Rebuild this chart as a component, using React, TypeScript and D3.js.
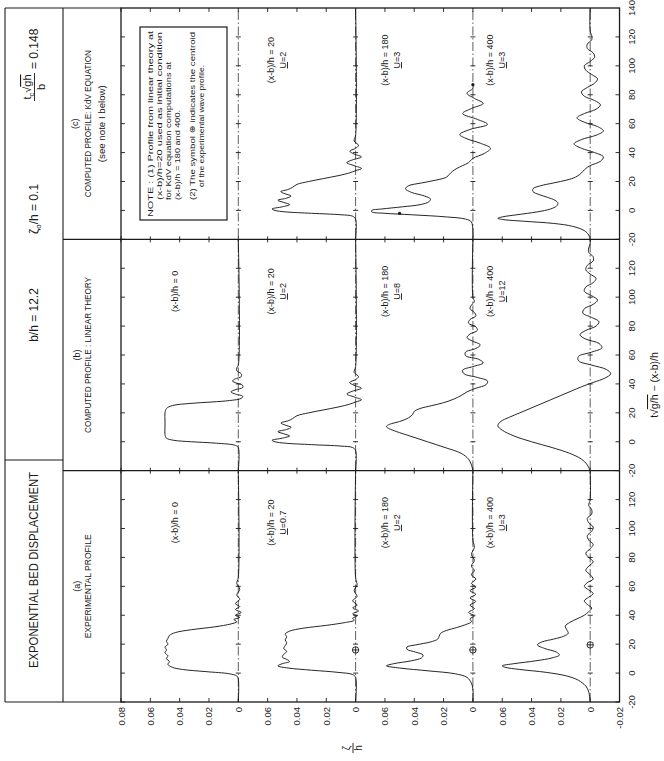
import React from 'react';
import * as d3 from 'd3';

type Pt = [number, number];

// panel headings
const panelTags = ['(a)', '(b)', '(c)'];
const panelTitles = ['EXPERIMENTAL PROFILE', 'COMPUTED PROFILE : LINEAR THEORY', 'COMPUTED PROFILE: KdV EQUATION'];
const stations = ['0', '20', '180', '400'];
const uNumbers = [
  [null, '0.7', '2', '3'],
  [null, '2', '8', '12'],
  [null, '2', '3', '3'],
];
const timeTicks = [-20, 0, 20, 40, 60, 80, 100, 120];
const etaTicksTop = [0.08, 0.06, 0.04, 0.02, 0];
const etaTicksRow = [0.06, 0.04, 0.02, 0];
const etaTicksLast = [-0.02];

// (a) experimental profiles, [t, eta/h]
const expX0: Pt[] = [[-20,0],[-4,0],[-2,0.001],[-0.5,0.006],[1,0.022],[2.5,0.038],[4,0.045],[6,0.048],[8,0.047],[10,0.049],[12,0.048],[14,0.05],[16,0.049],[18,0.05],[20,0.048],[22,0.049],[24,0.048],[26,0.047],[28,0.043],[30,0.032],[32,0.016],[34,0.005],[35.5,0.001],[37,0.003],[38.5,-0.001],[40,0.002],[42,-0.002],[44,0.002],[46,-0.001],[48,0.002],[51,-0.001],[54,0.001],[58,-0.001],[62,0.001],[66,0],[140,0]];
const expX20: Pt[] = [[-20,0],[-3,0],[-1,0.002],[0.5,0.012],[2,0.03],[3.5,0.046],[5,0.053],[6.5,0.05],[8,0.045],[9.5,0.047],[11,0.05],[13,0.049],[15,0.047],[17,0.049],[19,0.048],[21,0.047],[23,0.048],[25,0.047],[27,0.048],[29,0.045],[31,0.036],[33,0.02],[35,0.007],[36.5,0.001],[38,0.002],[39.5,-0.001],[41,0.002],[43,-0.002],[45,0.002],[47,-0.001],[50,0.002],[53,-0.001],[57,0.001],[61,-0.001],[66,0],[140,0]];
const expX180: Pt[] = [[-20,0],[-11,0],[-7,0.001],[-3,0.004],[-0.5,0.012],[1.5,0.03],[3.5,0.05],[5,0.059],[6.5,0.054],[8.5,0.042],[10.5,0.035],[12.5,0.034],[14.5,0.039],[16.5,0.045],[18,0.045],[19.5,0.039],[21.5,0.029],[23.5,0.024],[25.5,0.023],[27.5,0.022],[29.5,0.018],[31.5,0.011],[33.5,0.005],[35.5,0.001],[37.5,0.002],[39.5,-0.001],[42,0.003],[44.5,-0.001],[47,0.002],[49.5,-0.002],[52,0.002],[54.5,-0.002],[57,0.002],[59.5,-0.002],[62,0.001],[65,-0.002],[68,0.001],[71,-0.001],[74,0.001],[78,-0.001],[82,0.001],[87,-0.001],[92,0],[140,0]];
const expX400: Pt[] = [[-20,0],[-13,0.001],[-9,0.003],[-5,0.008],[-2,0.016],[0.5,0.03],[2.5,0.048],[4,0.058],[5,0.06],[6.5,0.052],[8.5,0.037],[10.5,0.026],[12.5,0.021],[14.5,0.023],[17,0.031],[19.5,0.036],[21.5,0.033],[23.5,0.025],[25.5,0.018],[27.5,0.015],[30,0.016],[32.5,0.017],[35,0.014],[37.5,0.009],[40,0.004],[42.5,0.001],[45,-0.001],[47.5,0.002],[50,0.004],[52.5,0.001],[55,-0.002],[57.5,0.001],[60,0.004],[62.5,0.002],[65,-0.002],[68,0],[71,0.003],[74,0.001],[77,-0.002],[80,0.001],[83,0.003],[86,0],[89,-0.002],[92,0.001],[95,0.002],[98,-0.001],[101,-0.002],[104,0.001],[107,0.002],[110,-0.001],[113,-0.001],[116,0.001],[120,0],[140,0]];

// (b) linear theory
const linX0: Pt[] = [[-20,0],[-4,0],[-2.5,0.002],[-1,0.015],[0,0.032],[1,0.044],[2.5,0.049],[5,0.05],[10,0.05],[15,0.05],[20,0.05],[23,0.049],[25,0.045],[26.5,0.033],[27.5,0.018],[28.5,0.006],[30,-0.002],[31.5,-0.003],[33,0.002],[34.5,0.005],[36,0.002],[37.5,-0.003],[39,-0.003],[40.5,0.001],[42,0.004],[43.5,0.002],[45,-0.002],[47,-0.002],[49,0.001],[51,0.001],[53,0],[140,0]];
const linX20: Pt[] = [[-20,0],[-6,0],[-4,0.002],[-3,0.01],[-2,0.03],[-1,0.048],[0,0.055],[1,0.057],[2.5,0.05],[4,0.045],[5.5,0.049],[7,0.053],[8.5,0.047],[10,0.044],[11.5,0.048],[13,0.051],[14.5,0.046],[16,0.043],[18,0.04],[20,0.032],[22,0.022],[24,0.012],[26,0.004],[27.5,0],[29,-0.004],[31,0.001],[33,0.006],[35,0.002],[37,-0.004],[39,0.001],[41,0.004],[43,0],[45,-0.002],[48,0.001],[52,0],[140,0]];
const linX180: Pt[] = [[-20,0],[-16,0.001],[-12,0.003],[-8,0.008],[-4,0.019],[0,0.031],[4,0.043],[7,0.052],[9,0.057],[10.5,0.059],[12,0.057],[14,0.05],[16.5,0.044],[19,0.041],[21,0.04],[23,0.036],[25,0.028],[27,0.02],[29.5,0.013],[32,0.008],[34.5,0.004],[37,-0.002],[39.5,-0.009],[42,-0.01],[44.5,-0.003],[47,0.006],[49.5,0.007],[52,0],[54.5,-0.007],[57,-0.004],[59.5,0.005],[62,0.005],[64.5,-0.002],[67,-0.005],[69.5,0],[72,0.004],[74.5,0.002],[77,-0.003],[79.5,-0.002],[82,0.003],[84.5,0.002],[87,-0.002],[89.5,-0.001],[92,0.002],[94.5,0.001],[97,-0.001],[100,0],[140,0]];
const linX400: Pt[] = [[-20,0],[-16,0.002],[-12,0.006],[-8,0.014],[-4,0.026],[0,0.04],[4,0.052],[8,0.06],[11,0.063],[14,0.061],[17,0.055],[20,0.048],[23,0.041],[26,0.034],[29,0.027],[32,0.02],[35,0.013],[38,0.006],[41,-0.002],[44,-0.01],[47,-0.014],[50,-0.011],[53,-0.001],[56,0.008],[59,0.008],[62,-0.001],[65,-0.008],[68,-0.006],[71,0.003],[74,0.007],[77,0.003],[80,-0.004],[83,-0.006],[86,-0.001],[89,0.005],[92,0.004],[95,-0.002],[98,-0.005],[101,-0.001],[104,0.004],[107,0.003],[110,-0.002],[113,-0.004],[116,0],[119,0.003],[122,0.002],[125,-0.002],[128,-0.002],[131,0.001],[134,0.001],[137,0],[140,0]];

// (c) KdV equation (x-b)/h=20 is the linear profile used as initial condition
const kdvX180: Pt[] = [[-20,0],[-8,0.001],[-6,0.005],[-4.5,0.018],[-3,0.042],[-2,0.06],[-1,0.069],[0,0.069],[1,0.062],[2.5,0.048],[4,0.036],[6,0.03],[8,0.029],[10,0.033],[12.5,0.042],[15,0.046],[17,0.044],[19,0.035],[21,0.025],[23,0.018],[25,0.016],[27,0.014],[29,0.011],[31,0.007],[33,0.003],[36,0],[39.5,-0.008],[43,-0.012],[46.5,-0.005],[49.5,0.004],[52.5,0.009],[56,0.002],[59.5,-0.01],[63,-0.003],[67,0.007],[70.5,0.001],[74,-0.007],[77.5,-0.001],[81,0.004],[84.5,0],[87,0]];
const kdvX400: Pt[] = [[-20,0],[-17,0.001],[-14,0.004],[-11,0.012],[-9,0.025],[-7.5,0.045],[-6.5,0.058],[-5.5,0.063],[-4.5,0.06],[-3,0.05],[-1,0.036],[1,0.027],[3,0.023],[5,0.022],[7,0.024],[9,0.029],[11,0.035],[13,0.039],[15,0.039],[17,0.034],[19,0.025],[21,0.016],[23,0.01],[25,0.007],[27,0.005],[29,0.003],[31,0],[34,-0.007],[37,-0.009],[40,-0.003],[43,0.006],[46,0.011],[49,0.006],[52,-0.004],[55,-0.009],[58,-0.005],[61,0.004],[64,0.009],[67,0.004],[70,-0.004],[73,-0.007],[76,-0.003],[79,0.004],[82,0.006],[85,0.002],[88,-0.003],[91,-0.005],[94,-0.001],[97,0.003],[100,0.004],[103,0],[106,-0.003],[109,-0.002],[112,0.002],[115,0.002],[118,-0.001],[121,-0.001],[124,0],[140,0]];

// centroid of experimental profile (panel a)
const centroids = [{ row: 1, t: 16 }, { row: 2, t: 16 }, { row: 3, t: 19.5 }];
const kdvDots = [{ row: 2, t: -2, eta: 0.05 }, { row: 2, t: 87, eta: 0 }];

const noteLines = [
  'NOTE : (1) Profile from linear theory at',
  '(x-b)/h=20 used as initial condition',
  'for KdV equation computations at',
  '(x-b)/h = 180 and 400.',
  '(2) The symbol \u2295 indicates the centroid',
  'of the experimental wave profile.',
];

const curves = [
  { panel: 0, row: 0, data: expX0 },
  { panel: 0, row: 1, data: expX20 },
  { panel: 0, row: 2, data: expX180 },
  { panel: 0, row: 3, data: expX400 },
  { panel: 1, row: 0, data: linX0 },
  { panel: 1, row: 1, data: linX20 },
  { panel: 1, row: 2, data: linX180 },
  { panel: 1, row: 3, data: linX400 },
  { panel: 2, row: 1, data: linX20 },
  { panel: 2, row: 2, data: kdvX180 },
  { panel: 2, row: 3, data: kdvX400 },
];

export default function App() {
  const W = 694;
  const PW = W / 3;
  const RH = 117.3;
  const K = RH / 0.08;
  const H = 4 * RH + 0.02 * K;
  const ink = '#1a1a1a';
  const font = 'Liberation Sans, Arial, DejaVu Sans, sans-serif';

  const tx = (p: number) => d3.scaleLinear().domain([-20, 140]).range([p * PW, (p + 1) * PW]);
  const ey = (r: number) => d3.scaleLinear().domain([0, 0.08]).range([(r + 1) * RH, r * RH]);
  const lineFor = (p: number, r: number) =>
    d3.line<Pt>()
      .x(d => tx(p)(d[0]))
      .y(d => ey(r)(d[1]))
      .curve(d3.curveCatmullRom.alpha(0.5));

  const etaTickSet = (r: number) =>
    r === 0 ? etaTicksTop : r === 3 ? etaTicksRow.concat(etaTicksLast) : etaTicksRow;

  const labelV = [[57], [153, 165], [267, 279], [372, 384]];

  return (
    <svg width={664} height={761} style={{ position: 'absolute', left: 0, top: 0, background: '#fff' }}
      fontFamily={font} fill={ink}>
      <rect width={664} height={761} fill="#fff" />
      <g transform="translate(121,702) rotate(-90)">
        {/* header */}
        <g stroke={ink} strokeWidth={1.1} fill="none">
          <line x1={0} x2={W} y1={-116} y2={-116} />
          <line x1={0} x2={W} y1={-58} y2={-58} />
          <line x1={0} x2={0} y1={-116} y2={0} />
          <line x1={W} x2={W} y1={-116} y2={0} />
          <line x1={242} x2={242} y1={-116} y2={-58} />
          <line x1={PW} x2={PW} y1={-58} y2={0} />
          <line x1={2 * PW} x2={2 * PW} y1={-58} y2={0} />
        </g>
        <text x={132} y={-83} fontSize={12} textAnchor="middle" textLength={196} lengthAdjust="spacingAndGlyphs">
          EXPONENTIAL BED DISPLACEMENT
        </text>
        <text x={387} y={-83} fontSize={12} textAnchor="middle">b/h = 12.2</text>
        <text x={493} y={-83} fontSize={12} textAnchor="middle">
          {'\u03b6'}<tspan fontSize={8} dy={3}>o</tspan><tspan dy={-3}>/h = 0.1</tspan>
        </text>
        <text x={615} y={-90} fontSize={11} textAnchor="middle">
          t<tspan fontSize={7.5} dy={2.5}>c</tspan><tspan dy={-2.5}>{'\u221a'}</tspan>
          <tspan style={{ textDecoration: 'overline' }}>gh</tspan>
        </text>
        <line x1={601} x2={629} y1={-86.5} y2={-86.5} stroke={ink} strokeWidth={0.9} />
        <text x={615} y={-76} fontSize={11} textAnchor="middle">b</text>
        <text x={633} y={-83} fontSize={12}>= 0.148</text>

        {panelTags.map((tag, p) => (
          <g key={tag}>
            <text x={p * PW + PW / 2} y={p === 2 ? -43 : -41} fontSize={9} textAnchor="middle">{tag}</text>
            <text x={p * PW + PW / 2} y={-30} fontSize={8.5} textAnchor="middle"
              textLength={[104, 156, 147][p]} lengthAdjust="spacingAndGlyphs">{panelTitles[p]}</text>
          </g>
        ))}
        <text x={2 * PW + PW / 2} y={-16} fontSize={8.5} textAnchor="middle" textLength={77}
          lengthAdjust="spacingAndGlyphs">(see note I below)</text>

        {/* dash-dot baselines */}
        {stations.map((s, r) => (
          <line key={'b' + s} x1={0} x2={W} y1={ey(r)(0)} y2={ey(r)(0)} stroke={ink} strokeWidth={0.7}
            strokeDasharray="9,2.5,1.5,2.5" />
        ))}

        {/* tick marks */}
        <g stroke={ink} strokeWidth={0.9}>
          {[0, 1, 2].map(p => timeTicks.map(t => {
            const u = tx(p)(t);
            return (
              <g key={`tt${p}${t}`}>
                <line x1={u} x2={u} y1={0} y2={4} />
                <line x1={u} x2={u} y1={H} y2={H - 4} />
                {t > -20 && stations.map((s, r) => (
                  <line key={s} x1={u} x2={u} y1={ey(r)(0) - 2.5} y2={ey(r)(0) + 2.5} />
                ))}
              </g>
            );
          }))}
          {stations.map((s, r) => etaTickSet(r).map(e => {
            const v = ey(r)(e);
            return (
              <g key={`et${r}${e}`}>
                <line x1={0} x2={4} y1={v} y2={v} />
                <line x1={W} x2={W - 4} y1={v} y2={v} />
                <line x1={PW - 3} x2={PW + 3} y1={v} y2={v} />
                <line x1={2 * PW - 3} x2={2 * PW + 3} y1={v} y2={v} />
              </g>
            );
          }))}
        </g>

        {/* curves */}
        {curves.map(c => (
          <path key={`c${c.panel}${c.row}`} d={lineFor(c.panel, c.row)(c.data) || ''} fill="none"
            stroke={ink} strokeWidth={0.95} strokeLinejoin="round" />
        ))}

        {/* centroid symbols */}
        {centroids.map(c => {
          const u = tx(0)(c.t);
          const v = ey(c.row)(0);
          return (
            <g key={'cen' + c.row} stroke={ink} strokeWidth={0.9} fill="#fff">
              <circle cx={u} cy={v} r={3.2} />
              <line x1={u - 3.2} x2={u + 3.2} y1={v} y2={v} />
              <line x1={u} x2={u} y1={v - 3.2} y2={v + 3.2} />
            </g>
          );
        })}
        {kdvDots.map((d, i) => (
          <circle key={'kd' + i} cx={tx(2)(d.t)} cy={ey(d.row)(d.eta)} r={1.6} fill={ink} />
        ))}

        {/* frame and separators */}
        <g stroke={ink} strokeWidth={1.3} fill="none">
          <rect x={0} y={0} width={W} height={H} />
          <line x1={PW} x2={PW} y1={0} y2={H} />
          <line x1={2 * PW} x2={2 * PW} y1={0} y2={H} />
        </g>

        {/* station labels */}
        {[0, 1, 2].map(p => stations.map((s, r) => {
          if (p === 2 && r === 0) return null;
          const u = tx(p)(104);
          const un = uNumbers[p][r];
          return (
            <g key={`lab${p}${r}`} fontSize={9} textAnchor="middle">
              <text x={u} y={labelV[r][0]}>{`(x-b)/h = ${s}`}</text>
              {un && (
                <text x={u} y={labelV[r][1]}>
                  <tspan style={{ textDecoration: 'underline' }}>U</tspan>{`=${un}`}
                </text>
              )}
            </g>
          );
        }))}

        {/* note box */}
        <rect x={482} y={19} width={193} height={87} fill="#fff" stroke={ink} strokeWidth={1.2} />
        {noteLines.map((ln, i) => (
          <text key={'n' + i} x={[485, 502, 502, 502, 502, 515][i]} y={[32, 41, 50, 59, 74, 83][i]}
            fontSize={8} textLength={[186, 168, 138, 90, 168, 122][i]} lengthAdjust="spacingAndGlyphs">
            {ln}
          </text>
        ))}

        {/* axis tick labels */}
        {[0, 1, 2].map(p => timeTicks.map(t => (
          <text key={`tl${p}${t}`} x={tx(p)(t)} y={H + 15} fontSize={9.5} textAnchor="middle">{t}</text>
        )))}
        <text x={W} y={H + 15} fontSize={9.5} textAnchor="middle">140</text>
        {stations.map((s, r) => etaTickSet(r).map(e => (
          <text key={`el${r}${e}`} x={-5} y={ey(r)(e) + 3.5} fontSize={9.5} textAnchor="end">
            {e === 0 ? '0' : e.toFixed(2)}
          </text>
        )))}

        {/* axis titles */}
        <text x={317} y={537} fontSize={10.5} textAnchor="middle">
          t{'\u221a'}<tspan style={{ textDecoration: 'overline' }}>g/h</tspan> {'\u2212'} (x-b)/h
        </text>
        <text x={-46} y={229} fontSize={10} textAnchor="middle">{'\u03b6'}</text>
        <line x1={-51} x2={-41} y1={232} y2={232} stroke={ink} strokeWidth={0.9} />
        <text x={-46} y={241} fontSize={10} textAnchor="middle">h</text>
      </g>
    </svg>
  );
}
